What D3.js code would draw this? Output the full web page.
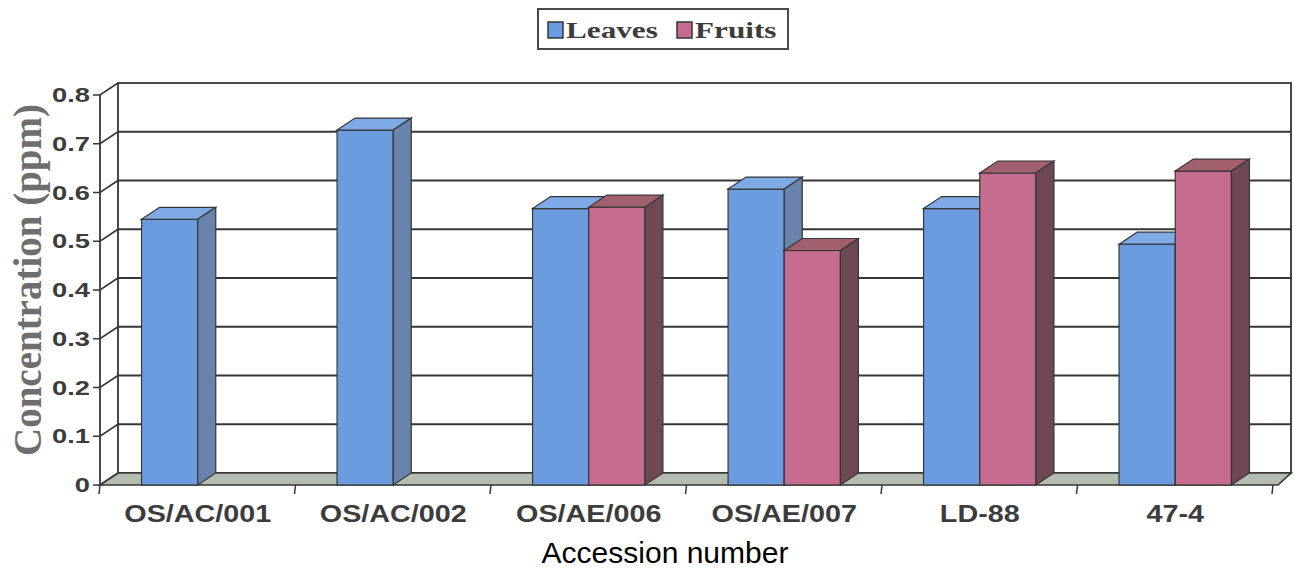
<!DOCTYPE html>
<html>
<head>
<meta charset="utf-8">
<script src="https://cdn.jsdelivr.net/npm/d3@7"></script>
<style>
	body { margin: 0; background: #fff; }
	svg { display: block; }
</style>
</head>
<body>
<div id="chart"></div>
<script>
const categories = ["OS/AC/001", "OS/AC/002", "OS/AE/006", "OS/AE/007", "LD-88", "47-4"];
const seriesNames = ["Leaves", "Fruits"];
const leaves = [0.545, 0.728, 0.567, 0.607, 0.567, 0.494];
const fruits = [null, null, 0.57, 0.481, 0.64, 0.644];
const yTicks = [0, 0.1, 0.2, 0.3, 0.4, 0.5, 0.6, 0.7, 0.8];

const width = 1294, height = 573;
const depth = { dx: 18, dy: -12 };
const colors = {
	Leaves: { front: "#6c9ce0", top: "#7eaae6", side: "#6983ad" },
	Fruits: { front: "#c56c8f", top: "#a2606f", side: "#6e4852" }
};
const lineCol = "#363636";
const textCol = "#3c3c3c";

let svg = d3.select("#chart").append("svg")
	.attr("width", width)
	.attr("height", height);

let x0 = d3.scaleBand()
	.domain(categories)
	.range([100, 1273]);

let x1 = d3.scaleBand()
	.domain(seriesNames)
	.range([0, x0.bandwidth()])
	.paddingOuter(0.74);

let y = d3.scaleLinear()
	.domain([0, 0.8])
	.range([485, 95]);

const floorY = y(0);
const left = x0.range()[0], right = x0.range()[1];

// back wall
svg.append("rect")
	.attr("x", left + depth.dx)
	.attr("y", y(0.8) + depth.dy)
	.attr("width", right - left)
	.attr("height", y(0) - y(0.8))
	.attr("fill", "#fff")
	.attr("stroke", lineCol)
	.attr("stroke-width", 1.8);

svg.append("g")
	.selectAll("line")
	.data(yTicks.filter(d => d > 0 && d < 0.8))
	.join("line")
	.attr("x1", left + depth.dx)
	.attr("x2", right + depth.dx)
	.attr("y1", d => y(d) + depth.dy)
	.attr("y2", d => y(d) + depth.dy)
	.attr("stroke", lineCol)
	.attr("stroke-width", 1.8);

// side wall: front axis line + oblique grid lines
svg.append("line")
	.attr("x1", left).attr("x2", left)
	.attr("y1", y(0.8)).attr("y2", floorY)
	.attr("stroke", lineCol)
	.attr("stroke-width", 1.8);

let tickG = svg.append("g");
tickG.selectAll("path")
	.data(yTicks)
	.join("path")
	.attr("d", d => `M${left - 7},${y(d)} L${left},${y(d)} L${left + depth.dx},${y(d) + depth.dy}`)
	.attr("fill", "none")
	.attr("stroke", lineCol)
	.attr("stroke-width", 1.6);

tickG.selectAll("text")
	.data(yTicks)
	.join("text")
	.attr("transform", d => `translate(${left - 10},${y(d) + 7}) scale(1.3,1)`)
	.attr("text-anchor", "end")
	.attr("font-family", "Liberation Sans, Arial, sans-serif")
	.attr("font-weight", "bold")
	.attr("font-size", 21)
	.attr("fill", textCol)
	.text(d => d === 0 ? "0" : d3.format(".1f")(d));

// floor
svg.append("polygon")
	.attr("points", [
		[left, floorY], [right + 5, floorY],
		[right + depth.dx, floorY + depth.dy], [left + depth.dx, floorY + depth.dy]
	].map(p => p.join(",")).join(" "))
	.attr("fill", "#b3bcae")
	.attr("stroke", lineCol)
	.attr("stroke-width", 1.6);

// category ticks under the floor
svg.append("g")
	.selectAll("line")
	.data(categories.map(c => x0(c)).concat([right]))
	.join("line")
	.attr("x1", d => d).attr("x2", d => d - 1)
	.attr("y1", floorY).attr("y2", floorY + 9)
	.attr("stroke", lineCol)
	.attr("stroke-width", 1.5);

// bars
let barData = categories.map((c, i) => ({
	category: c,
	values: [
		{ series: "Leaves", value: leaves[i] },
		{ series: "Fruits", value: fruits[i] }
	].filter(d => d.value != null)
}));

let catG = svg.append("g")
	.selectAll("g")
	.data(barData)
	.join("g")
	.attr("transform", d => `translate(${x0(d.category)},0)`);

let bar = catG.selectAll("g")
	.data(d => d.values)
	.join("g");

const bw = x1.bandwidth();

bar.append("rect")
	.attr("x", d => x1(d.series))
	.attr("y", d => y(d.value))
	.attr("width", bw)
	.attr("height", d => floorY - y(d.value))
	.attr("fill", d => colors[d.series].front)
	.attr("stroke", lineCol)
	.attr("stroke-width", 1.2);

bar.append("polygon")
	.attr("points", d => {
		let bx = x1(d.series), t = y(d.value);
		return [[bx, t], [bx + depth.dx, t + depth.dy], [bx + bw + depth.dx, t + depth.dy], [bx + bw, t]]
			.map(p => p.join(",")).join(" ");
	})
	.attr("fill", d => colors[d.series].top)
	.attr("stroke", lineCol)
	.attr("stroke-width", 1.2);

bar.append("polygon")
	.attr("points", d => {
		let bx = x1(d.series) + bw, t = y(d.value);
		return [[bx, t], [bx + depth.dx, t + depth.dy], [bx + depth.dx, floorY + depth.dy], [bx, floorY]]
			.map(p => p.join(",")).join(" ");
	})
	.attr("fill", d => colors[d.series].side)
	.attr("stroke", lineCol)
	.attr("stroke-width", 1.2);

// category labels
svg.append("g")
	.selectAll("text")
	.data(categories)
	.join("text")
	.attr("transform", d => `translate(${x0(d) + x0.bandwidth() / 2},522) scale(1.25,1)`)
	.attr("text-anchor", "middle")
	.attr("font-family", "Liberation Sans, Arial, sans-serif")
	.attr("font-weight", "bold")
	.attr("font-size", 23)
	.attr("fill", textCol)
	.text(d => d);

// axis titles
svg.append("text")
	.attr("transform", `translate(41,280) rotate(-90)`)
	.attr("text-anchor", "middle")
	.attr("font-family", "Liberation Serif, Times New Roman, serif")
	.attr("font-weight", "bold")
	.attr("font-size", 39)
	.attr("fill", "#6e6e6e")
	.text("Concentration (ppm)");

svg.append("text")
	.attr("x", 665)
	.attr("y", 563)
	.attr("text-anchor", "middle")
	.attr("font-family", "Liberation Sans, Arial, sans-serif")
	.attr("font-size", 30)
	.attr("fill", "#000")
	.text("Accession number");

// legend
let legend = svg.append("g");
legend.append("rect")
	.attr("x", 538).attr("y", 9)
	.attr("width", 250).attr("height", 40)
	.attr("fill", "#fff")
	.attr("stroke", "#4a4a4a")
	.attr("stroke-width", 2);

let legItem = legend.selectAll("g")
	.data(seriesNames)
	.join("g")
	.attr("transform", (d, i) => `translate(${i == 0 ? 548 : 677},0)`);

legItem.append("rect")
	.attr("x", 0).attr("y", 22)
	.attr("width", 15).attr("height", 16)
	.attr("fill", d => colors[d].front)
	.attr("stroke", lineCol)
	.attr("stroke-width", 1.5);

legItem.append("text")
	.attr("transform", "translate(18,38) scale(1.3,1)")
	.attr("font-family", "Liberation Serif, Times New Roman, serif")
	.attr("font-weight", "bold")
	.attr("font-size", 24)
	.attr("fill", textCol)
	.text(d => d);
</script>
</body>
</html>
